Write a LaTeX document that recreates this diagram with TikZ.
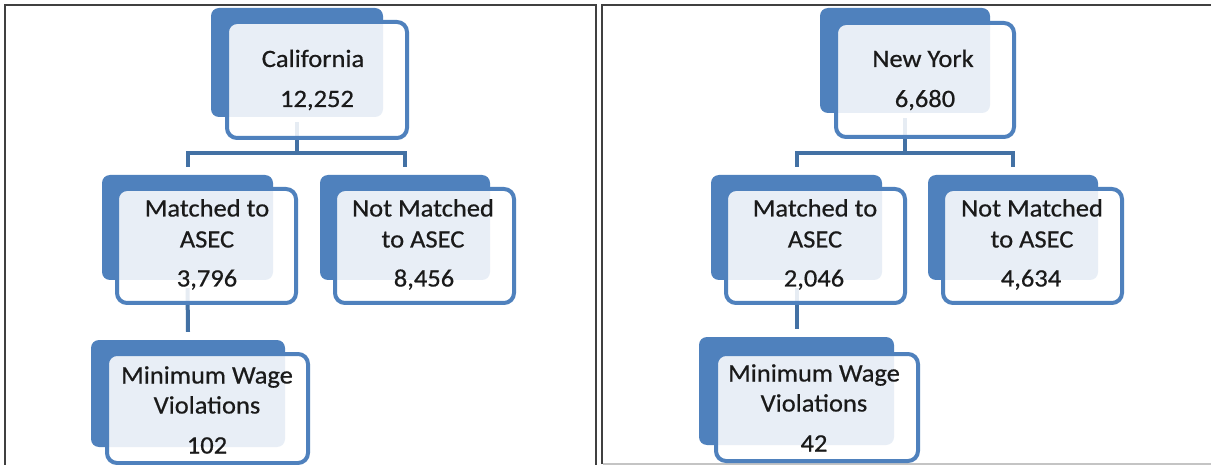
\documentclass[tikz,border=0pt]{standalone}
\usepackage{fontspec}
\setmainfont{Carlito}[FakeStretch=1.06, FakeBold=0.6]
\usetikzlibrary{fit}

\definecolor{boxblue}{HTML}{4F81BD}
\definecolor{linkblue}{HTML}{4371A4}
\definecolor{framegray}{HTML}{404040}
\definecolor{edgegray}{HTML}{C4C4C4}
\definecolor{inkdark}{HTML}{1A1A1A}

\tikzset{
  backbox/.style={fill=boxblue, draw=none, rounded corners=8pt, inner sep=0pt},
  frontbox/.style={draw=boxblue, line width=4pt, fill=white, fill opacity=0.87,
                   rounded corners=10pt, inner sep=0pt},
  boxtext/.style={text=inkdark, font=\fontsize{25}{30}\selectfont, inner sep=0pt, anchor=base},
  link/.style={draw=linkblue, line width=4pt},
  panel/.style={draw=framegray, line width=2.2pt},
}

\begin{document}
\begin{tikzpicture}[x=1pt, y=-1pt]
\useasboundingbox (0,0) rectangle (1211,465);
\clip (0,0) rectangle (1211,465);
\fill[white] (0,0) rectangle (1211,465);

% ---- panel frames
\draw[panel] (5,480) -- (5,5) -- (596,5) -- (596,480);
\draw[panel] (602,464) -- (602,5) -- (1230,5);
\draw[edgegray, line width=1.5pt] (603,464) -- (1211,464);

% ---- filled back shapes
\node[backbox, fit={(211,8) (383,117)}]   (cab) {};
\node[backbox, fit={(102,175) (273,280)}] (cmb) {};
\node[backbox, fit={(320,175) (490,280)}] (cnb) {};
\node[backbox, fit={(91,340) (285,447)}]  (cwb) {};

\node[backbox, fit={(820,8) (990,113)}]   (nyb) {};
\node[backbox, fit={(711,175) (882,280)}] (nmb) {};
\node[backbox, fit={(928,175) (1098,280)}] (nnb) {};
\node[backbox, fit={(699,337) (894,445)}] (nwb) {};

% ---- connectors
\coordinate (bar) at (0,153);
\draw[link] ([yshift=-5pt]cab.south) -- (cab.south |- bar);
\draw[link] ([yshift=8pt]cmb.north) |- (cab.south |- bar) -| ([yshift=8pt]cnb.north);
\draw[link] ([yshift=-8pt]cmb.south) -- ([yshift=8pt]cwb.north);

\draw[link] ([yshift=-5pt]nyb.south) -- (nyb.south |- bar);
\draw[link] ([yshift=8pt]nmb.north) |- (nyb.south |- bar) -| ([yshift=8pt]nnb.north);
\draw[link] ([yshift=-8pt]nmb.south) -- ([yshift=8pt]nwb.north);

% ---- outlined front shapes
\node[frontbox, fit={(227,22) (407,138)}]  (caf) {};
\node[frontbox, fit={(117,189) (296,303)}] (cmf) {};
\node[frontbox, fit={(335,189) (514,303)}] (cnf) {};
\node[frontbox, fit={(107,354) (308,463)}] (cwf) {};

\node[frontbox, fit={(836,23) (1014,137)}]  (nyf) {};
\node[frontbox, fit={(726,189) (905,303)}]  (nmf) {};
\node[frontbox, fit={(943,189) (1122,303)}] (nnf) {};
\node[frontbox, fit={(716,354) (918,461)}]  (nwf) {};

% ---- texts: California
\node[boxtext] (t1) at (313,67)  {California};
\node[boxtext] (t2) at (317,107) {12,252};
\node[boxtext] (t3) at (207,216.5) {Matched to};
\node[boxtext] (t4) at (207,247.5) {ASEC};
\node[boxtext] (t5) at (207,286.5) {3,796};
\node[boxtext] (t6) at (423,216.5) {Not Matched};
\node[boxtext] (t7) at (423,247.5) {to ASEC};
\node[boxtext] (t8) at (424,286.5) {8,456};
\node[boxtext] (t9) at (207,383.5) {Minimum Wage};
\node[boxtext] (t10) at (207,413.5) {Violations};
\node[boxtext] (t11) at (207,453.5) {102};

% ---- texts: New York
\node[boxtext] (u1) at (923,67)  {New York};
\node[boxtext] (u2) at (925,107) {6,680};
\node[boxtext] (u3) at (815,216.5) {Matched to};
\node[boxtext] (u4) at (815,247.5) {ASEC};
\node[boxtext] (u5) at (814,286.5) {2,046};
\node[boxtext] (u6) at (1032,216.5) {Not Matched};
\node[boxtext] (u7) at (1032,247.5) {to ASEC};
\node[boxtext] (u8) at (1031,286.5) {4,634};
\node[boxtext] (u9) at (814,381.5) {Minimum Wage};
\node[boxtext] (u10) at (814,411.5) {Violations};
\node[boxtext] (u11) at (814,451.5) {42};
\end{tikzpicture}
\end{document}
